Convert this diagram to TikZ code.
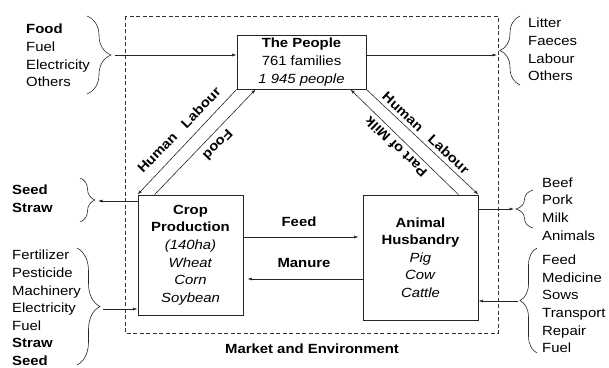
\documentclass[tikz,border=0pt]{standalone}
\usepackage{fontspec}
\setmainfont{Liberation Sans}[FakeStretch=1.12]
\usetikzlibrary{
    decorations.pathreplacing,
    arrows.meta,
    calc,
    positioning
}
\tikzset{
    txt/.style={font=\fontsize{13.3}{17.6}\selectfont},
    box/.style={txt, draw=black!85, line width=0.8pt, align=center, inner sep=0pt},
    list/.style={txt, align=left, inner sep=0pt, anchor=west},
    lbl/.style={font=\fontsize{13.3}{17.6}\selectfont\bfseries, inner sep=0pt},
    flow/.style={-{Latex[length=4.5pt,width=3pt]}, draw=black!85, line width=0.6pt},
    brc/.style={decorate, decoration={brace, amplitude=#1}, draw=black!85, line width=0.6pt}
}

\begin{document}
\begin{tikzpicture}[x=1pt, y=-1pt]
    \useasboundingbox (0,0) rectangle (609,367);
    \draw[dash pattern=on 4pt off 2.5pt, draw=black!80, line width=0.6pt] (125,16) rectangle (498,333);

    \node[box, minimum width=129pt, minimum height=54pt] (people) at (301.5,62)
        {\textbf{The People}\\761 families\\\textit{1 945 people}};
    \node[box, minimum width=105pt, minimum height=120pt] (crop) at (190.5,255)
        {\textbf{Crop}\\\textbf{Production}\\\textit{(140ha)}\\\textit{Wheat}\\\textit{Corn}\\\textit{Soybean}};
    \node[box, minimum width=115pt, minimum height=125pt] (animal) at (420.5,257.5)
        {\textbf{Animal}\\\textbf{Husbandry}\\\textit{Pig}\\\textit{Cow}\\\textit{Cattle}};

    \node[list] (inpeople) at (26,55.5) {\textbf{Food}\\Fuel\\Electricity\\Others};
    \node[list] (outpeople) at (528,49.5) {Litter\\Faeces\\Labour\\Others};
    \node[list] (outcrop) at (12,198.5) {\textbf{Seed}\\\textbf{Straw}};
    \node[list] (incrop) at (12,308) {Fertilizer\\Pesticide\\Machinery\\Electricity\\Fuel\\\textbf{Straw}\\\textbf{Seed}};
    \node[list] (outanimal) at (542,209) {Beef\\Pork\\Milk\\Animals};
    \node[list] (inanimal) at (542,304) {Feed\\Medicine\\Sows\\Transport\\Repair\\Fuel};

    \draw[brc=24] (87,16) -- (87,94);
    \draw[brc=20] (520,85) -- (520,16);
    \draw[brc=15] (80,178) -- (80,222);
    \draw[brc=23] (77,248) -- (77,365);
    \draw[brc=17] (533,228) -- (533,190);
    \draw[brc=17] (537,353) -- (537,248);

    \coordinate (fl) at (115,55);
    \coordinate (lt) at (497,55);
    \coordinate (ss) at (98,201);
    \coordinate (ll) at (103,309);
    \coordinate (bf) at (514,209);
    \coordinate (lr) at (518,301);
    \coordinate (fd) at (300,237);
    \coordinate (mn) at (300,279);

    \draw[flow] (fl) -- (fl -| people.west);
    \draw[flow] (lt -| people.east) -- (lt);
    \draw[flow] (ss -| crop.west) -- (ss);
    \draw[flow] (ll) -- (ll -| crop.west);
    \draw[flow] (bf -| animal.east) -- (bf);
    \draw[flow] (lr) -- (lr -| animal.east);
    \draw[flow, shorten >=4pt] (fd -| crop.east) -- (fd -| animal.west);
    \draw[flow, shorten >=4pt] (mn -| animal.west) -- (mn -| crop.east);

    \draw[flow] (people.south west) -- (crop.north west);
    \draw[flow] ([xshift=17pt]crop.north west) -- ([xshift=19pt]people.south west);
    \draw[flow] (people.south east) -- (animal.north east);
    \draw[flow] ([xshift=-20pt]animal.north east) -- ([xshift=-16pt]people.south east);

    \node[lbl, rotate=46] (labourl) at (179,130) {Human\hspace{0.9em}Labour};
    \node[lbl, rotate=226] (food) at (218,145) {Food};
    \node[lbl, rotate=-43] (labourr) at (426,133) {Human\hspace{0.9em}Labour};
    \node[lbl, rotate=136] (milk) at (396,147) {Part of Milk};
    \node[lbl] (feed) at (299,222) {Feed};
    \node[lbl] (manure) at (304,263) {Manure};
    \node[lbl] (market) at (312,349) {Market and Environment};
\end{tikzpicture}
\end{document}
